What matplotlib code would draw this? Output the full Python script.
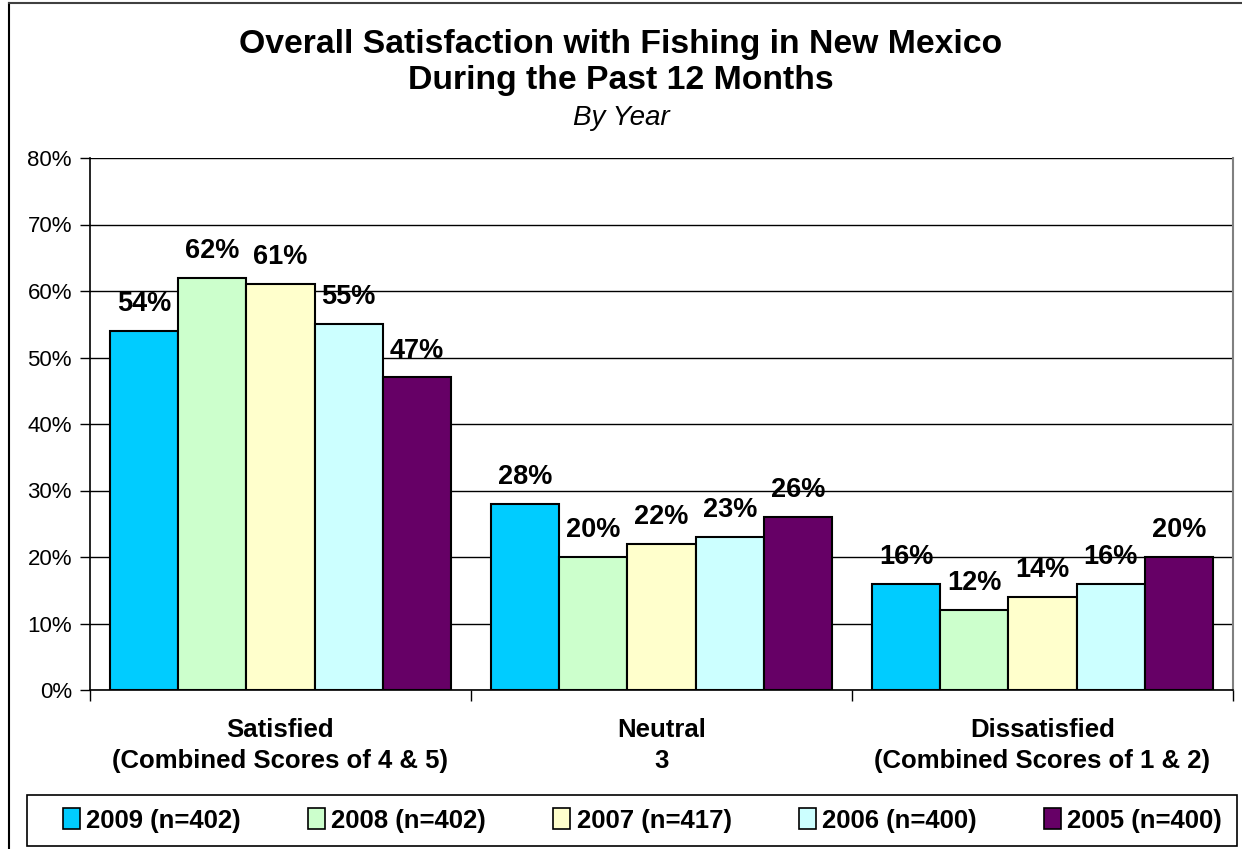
import matplotlib

matplotlib.use("Agg")
import matplotlib.pyplot as plt
import numpy as np
from matplotlib.lines import Line2D
from matplotlib.patches import Rectangle
from matplotlib.ticker import FixedLocator, PercentFormatter

plt.rcParams["font.family"] = ["Liberation Sans", "DejaVu Sans"]

categories = [
    "Satisfied\n(Combined Scores of 4 & 5)",
    "Neutral\n3",
    "Dissatisfied\n(Combined Scores of 1 & 2)",
]
series_labels = [
    "2009 (n=402)",
    "2008 (n=402)",
    "2007 (n=417)",
    "2006 (n=400)",
    "2005 (n=400)",
]
values = [
    [54, 28, 16],  # 2009
    [62, 20, 12],  # 2008
    [61, 22, 14],  # 2007
    [55, 23, 16],  # 2006
    [47, 26, 20],  # 2005
]
colors = ["#00CCFF", "#CCFFCC", "#FFFFCC", "#CCFFFF", "#660066"]

W, H = 1242, 849
fig = plt.figure(figsize=(W / 100, H / 100), dpi=100)
ax = fig.add_axes([90 / W, 1 - 690 / H, (1233 - 90) / W, (690 - 158) / H])

x = np.arange(len(categories))
bar_w = 0.179
handles = []
for i, (vals, col, lab) in enumerate(zip(values, colors, series_labels)):
    pos = x + (i - 2) * bar_w
    bars = ax.bar(pos, vals, width=bar_w, color=col, edgecolor="black",
                  linewidth=1.5, label=lab, zorder=3)
    handles.append(bars)
    for b, v in zip(bars, vals):
        ax.annotate(f"{v}%", (b.get_x() + b.get_width() / 2, v),
                    xytext=(0, 10), textcoords="offset points",
                    ha="center", va="bottom", fontsize=19.5,
                    fontweight="bold", zorder=4)

ax.set_xlim(-0.5, 2.5)
ax.set_ylim(0, 80)
ax.yaxis.set_major_locator(FixedLocator(range(0, 81, 10)))
ax.yaxis.set_major_formatter(PercentFormatter(decimals=0))
ax.grid(axis="y", color="black", linewidth=1, zorder=0)
ax.tick_params(axis="y", direction="out", length=7, width=1,
               labelsize=16, pad=6)

ax.set_xticks(x)
ax.set_xticklabels(categories, fontsize=18.5, fontweight="bold",
                   linespacing=1.4)
ax.set_xticks([-0.5, 0.5, 1.5, 2.5], minor=True)
ax.tick_params(axis="x", which="major", length=0, pad=20)
ax.tick_params(axis="x", which="minor", direction="out", length=8, width=1)

ax.spines["top"].set_visible(False)
ax.spines["right"].set_color("#808080")
ax.spines["right"].set_linewidth(1.5)
ax.spines["left"].set_linewidth(1.2)
ax.spines["bottom"].set_linewidth(1.2)

fig.text(0.5, 1 - 44 / H, "Overall Satisfaction with Fishing in New Mexico",
         ha="center", va="center", fontsize=24.3, fontweight="bold")
fig.text(0.5, 1 - 81 / H, "During the Past 12 Months",
         ha="center", va="center", fontsize=24.3, fontweight="bold")
fig.text(0.5, 1 - 118 / H, "By Year", ha="center", va="center",
         fontsize=20, style="italic")

# legend box drawn separately, entries spread across it
fig.add_artist(Rectangle((27 / W, 3 / H), 1210 / W, 51 / H,
                         transform=fig.transFigure, facecolor="white",
                         edgecolor="black", linewidth=1.2, zorder=1))
leg = fig.legend(handles=handles, loc="center", ncol=5, mode="expand",
                 bbox_to_anchor=(63 / W, 3 / H, 1159 / W, 51 / H),
                 prop={"weight": "bold", "size": 18.5},
                 frameon=False, handlelength=0.65, handleheight=0.85,
                 handletextpad=0.25, borderpad=0, borderaxespad=0)
leg.set_zorder(2)
leg._legend_box.align = "center"
for h in leg.legend_handles:
    h.set_linewidth(1.2)

# outer chart border (cropped on the right and bottom)
fig.add_artist(Line2D([9 / W, 9 / W], [0, 1 - 3 / H], color="black",
                      linewidth=1.5, transform=fig.transFigure))
fig.add_artist(Line2D([9 / W, 1], [1 - 3 / H, 1 - 3 / H], color="#404040",
                      linewidth=1.5, transform=fig.transFigure))

fig.savefig("out.png", dpi=100)
